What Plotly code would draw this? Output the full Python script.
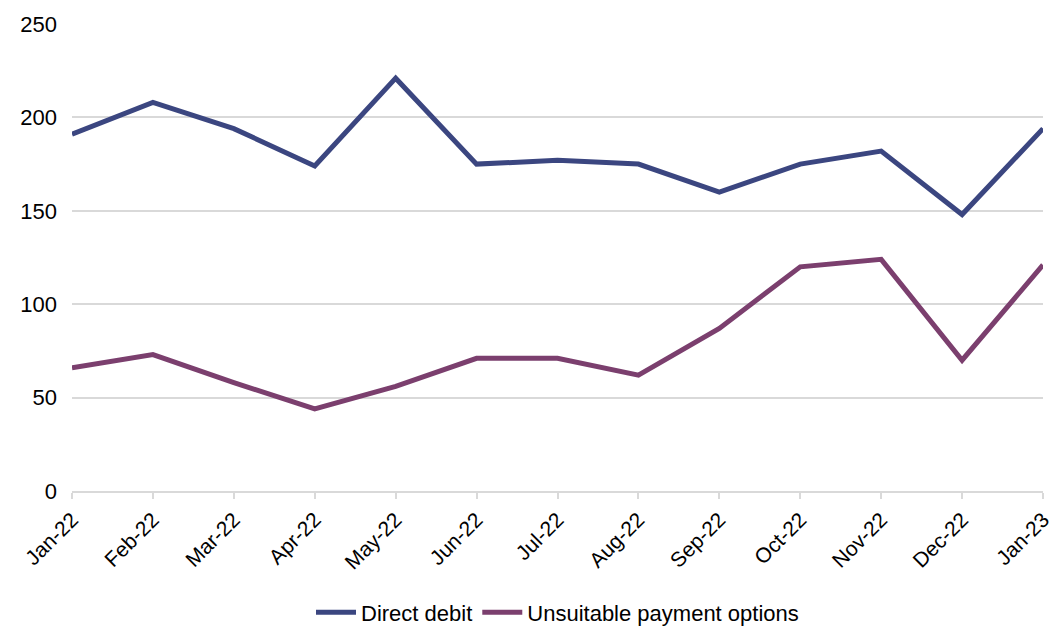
import plotly.graph_objects as go

# Monthly counts for the two series
months = ["Jan-22", "Feb-22", "Mar-22", "Apr-22", "May-22", "Jun-22", "Jul-22",
          "Aug-22", "Sep-22", "Oct-22", "Nov-22", "Dec-22", "Jan-23"]
direct_debit = [191, 208, 194, 174, 221, 175, 177, 175, 160, 175, 182, 148, 194]
unsuitable_payment = [66, 73, 58, 44, 56, 71, 71, 62, 87, 120, 124, 70, 121]
y_ticks = [0, 50, 100, 150, 200, 250]

x_pos = list(range(len(months)))

fig = go.Figure()
fig.add_trace(go.Scatter(
    x=x_pos, y=direct_debit, mode="lines", name="Direct debit",
    line=dict(color="#3B4680", width=5),
))
fig.add_trace(go.Scatter(
    x=x_pos, y=unsuitable_payment, mode="lines", name="Unsuitable payment options",
    line=dict(color="#7B3F6E", width=5),
))

fig.update_layout(
    width=1052, height=630,
    margin=dict(l=72, r=9, t=24, b=139, autoexpand=False),
    paper_bgcolor="white", plot_bgcolor="white",
    font=dict(family="Liberation Sans, Arial, sans-serif", size=22, color="#000000"),
    showlegend=True,
    legend=dict(orientation="h", x=0.5, xanchor="center", y=-0.215, yanchor="top",
                font=dict(size=22), itemwidth=40, tracegroupgap=0),
)
fig.update_xaxes(
    range=[0, len(months) - 1], tickvals=x_pos, ticktext=months, tickangle=-45,
    tickfont=dict(size=21),
    showgrid=False, showline=True, linecolor="#D9D9D9", linewidth=2,
    ticks="outside", ticklen=6, tickcolor="#D9D9D9", tickwidth=2,
    zeroline=False, automargin=False, ticklabeloverflow="allow",
)
fig.update_yaxes(
    range=[0, 250], tickvals=y_ticks, showgrid=True, gridcolor="#D9D9D9", gridwidth=2,
    zeroline=False, showline=False, ticks="", ticklabelstandoff=14, automargin=False,
)

fig.write_html("out.html")
